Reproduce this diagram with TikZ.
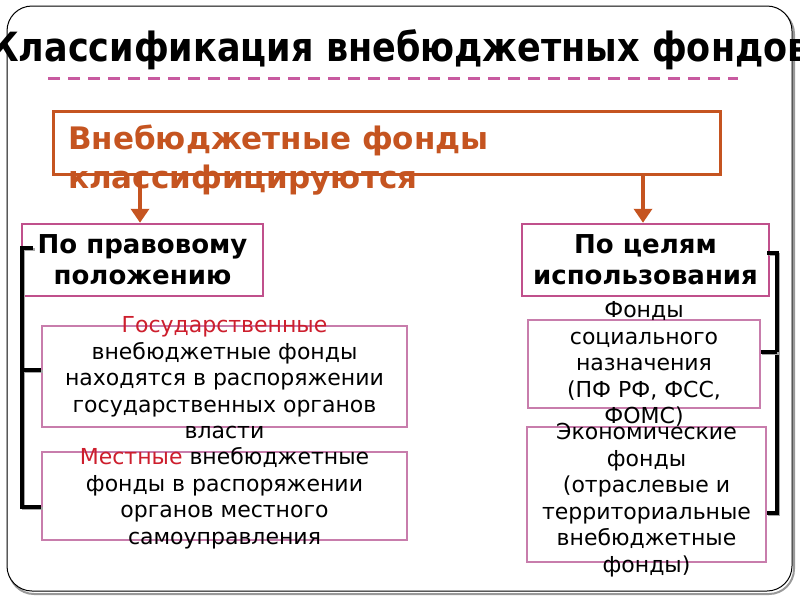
\documentclass[tikz,border=0pt]{standalone}
\usepackage{fontspec}
\setmainfont{DejaVu Sans}
\usetikzlibrary{positioning,arrows.meta,calc}
\definecolor{fundorange}{RGB}{197,84,32}
\definecolor{grouppink}{RGB}{192,80,140}
\definecolor{itempink}{RGB}{200,125,172}
\definecolor{dashpink}{RGB}{200,90,160}
\definecolor{keyred}{RGB}{205,30,45}
\tikzset{
  rootbox/.style  = {shape=rectangle, draw=fundorange, line width=3pt,
                     fill=white, inner sep=0pt},
  groupbox/.style = {shape=rectangle, draw=grouppink, line width=2.5pt,
                     fill=white, inner sep=0pt},
  itembox/.style  = {shape=rectangle, draw=itempink, line width=1.6pt,
                     inner sep=0pt},
  grouptext/.style = {align=center, inner sep=0pt,
                      font=\bfseries\fontsize{26}{31}\selectfont},
  itemtext/.style  = {align=center, inner sep=0pt,
                      font=\fontsize{22}{26.5}\selectfont},
  bracket/.style  = {draw=black, line width=3.5pt,
                     preaction={draw=black!35, line width=3.5pt,
                       transform canvas={shift={(1.5pt,-1.5pt)}}}},
  fundarrow/.style = {draw=fundorange, line width=4pt,
                      -{Triangle[width=18pt,length=14pt]}}
}
\begin{document}
\begin{tikzpicture}
  [
    x = 1pt,
    y = -1pt
  ]
  \useasboundingbox (0,0) rectangle (800,600);
  \draw[black!40, line width=2pt, rounded corners=25pt]
    (9,9) rectangle (794,594);
  \draw[black, line width=1pt, rounded corners=25pt, fill=white]
    (7,6) rectangle (792,591);

  \node (title) at (400,50)
    {\scalebox{1}[1.15]{\bfseries\fontsize{35}{40}\selectfont Классификация внебюджетных фондов}};
  \draw[dashpink, line width=3pt, dash pattern=on 12pt off 8pt]
    (48,78) -- (738,78);

  \node[rootbox, minimum width=667pt, minimum height=63pt] (root) at (386.5,142.5) {};
  \node[anchor=west, align=left, inner sep=0pt, text=fundorange,
        font=\bfseries\fontsize{31}{39}\selectfont] (roottxt) at (68,160)
    {Внебюджетные фонды\\классифицируются};

  \node[groupbox, minimum width=241pt, minimum height=72pt] (legal) at (142.5,260) {};
  \node[groupbox, minimum width=247pt, minimum height=72pt] (usage) at (645.5,260) {};
  \node[grouptext] (legaltxt) at (legal.center) {По правовому\\положению};
  \node[grouptext] (usagetxt) at (usage.center) {По целям\\использования};

  \draw[fundarrow] (root.south -| 140,0) -- (legal.north -| 140,0);
  \draw[fundarrow] (root.south -| 643,0) -- (usage.north -| 643,0);

  \node[itembox, minimum width=365pt, minimum height=101pt] (state) at (224.5,376.5) {};
  \node[itembox, minimum width=365pt, minimum height=88pt] (local) at (224.5,496) {};
  \node[itembox, minimum width=232pt, minimum height=88pt] (social) at (644,364) {};
  \node[itembox, minimum width=239pt, minimum height=135pt] (econ) at (646.5,494.5) {};

  \node[itemtext] (statetxt) at ([yshift=-1.5pt]state.center)
    {\textcolor{keyred}{Государственные}\\внебюджетные фонды\\находятся в распоряжении\\государственных органов\\власти};
  \node[itemtext] (localtxt) at ([yshift=-2pt]local.center)
    {\textcolor{keyred}{Местные} внебюджетные\\фонды в распоряжении\\органов местного\\самоуправления};
  \node[itemtext] (socialtxt) at (social.center)
    {Фонды\\социального\\назначения\\(ПФ РФ, ФСС,\\ФОМС)};
  \node[itemtext] (econtxt) at ([yshift=-5.5pt]econ.center)
    {Экономические\\фонды\\(отраслевые и\\территориальные\\внебюджетные\\фонды)};

  \coordinate (ltop) at (33,248);
  \coordinate (lbot) at (22,507);
  \draw[bracket] (ltop) -| (lbot) -- (lbot -| local.west);
  \draw[bracket] (lbot |- 0,370) -- (state.west |- 0,370);
  \coordinate (rtop) at (767,253);
  \coordinate (rbot) at (777,513);
  \draw[bracket] (rtop) -| (rbot) -- (rbot -| econ.east);
  \draw[bracket] (rbot |- 0,352) -- (social.east |- 0,352);
\end{tikzpicture}
\end{document}
